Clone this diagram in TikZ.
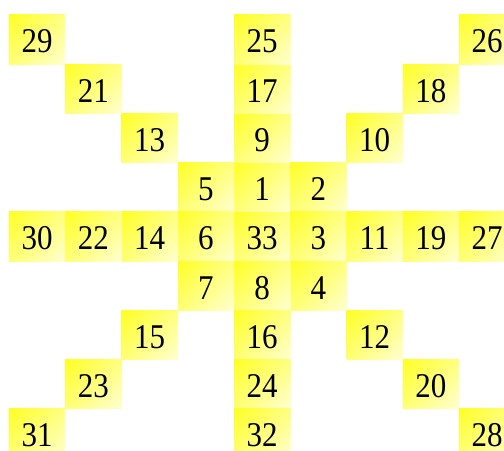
\documentclass[tikz,border=0pt]{standalone}
\usepackage{graphicx}
\usepackage{fontspec}
\setmainfont{Liberation Serif}
\pgfdeclareverticalshading{cellfade}{100bp}{color(0bp)=(yellow!4); color(100bp)=(yellow)}
\tikzset{
  cell/.style={minimum width=56.25pt, minimum height=49.25pt, inner sep=0pt,
    shading=cellfade, shading angle=45, text depth=0pt, text height=26.5pt,
    font=\fontsize{31}{31}\selectfont}
}
\newcommand{\cellnum}[1]{\scalebox{1}[1.12]{#1}}

\begin{document}
\begin{tikzpicture}[x=56.25pt, y=-49.25pt]
  \clip (-0.66, -0.804) rectangle (8.3, 8.353);
  \useasboundingbox (-0.66, -0.804) rectangle (8.3, 8.353);
  \node[cell] (n33) at (4, 4) {\cellnum{33}};
  \foreach \k in {1,...,4} {
    \foreach \i/\dx/\dy in {1/0/-1, 2/1/-1, 3/1/0, 4/1/1, 5/-1/-1, 6/-1/0, 7/-1/1, 8/0/1} {
      \pgfmathtruncatemacro{\num}{8*(\k-1)+\i}
      \node[cell] (n\num) at ({4+\k*\dx}, {4+\k*\dy}) {\cellnum{\num}};
    }
  }
\end{tikzpicture}
\end{document}
